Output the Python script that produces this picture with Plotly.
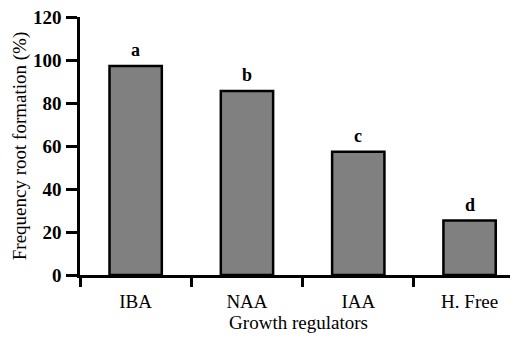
import plotly.graph_objects as go

categories = ["IBA", "NAA", "IAA", "H. Free"]
values = [97.2, 85.6, 57.3, 25.3]
letters = ["a", "b", "c", "d"]
y_ticks = [0, 20, 40, 60, 80, 100, 120]

FONT = "Liberation Serif, Times New Roman, serif"

fig = go.Figure()
fig.add_trace(go.Bar(
    x=categories, y=values, width=0.47,
    marker=dict(color="#808080", line=dict(color="black", width=2.5)),
))

for c, v, t in zip(categories, values, letters):
    fig.add_annotation(x=c, y=v, text=f"<b>{t}</b>", showarrow=False,
                       yanchor="bottom", yshift=4,
                       font=dict(family=FONT, size=18, color="black"))

fig.update_layout(
    width=510, height=337,
    margin=dict(l=72, r=1, t=9, b=70),
    plot_bgcolor="white", paper_bgcolor="white",
    showlegend=False,
    font=dict(family=FONT, color="black"),
)
fig.update_xaxes(
    type="category", range=[-0.5, 3.426], automargin=False,
    showline=True, linecolor="black", linewidth=2.5,
    ticks="outside", tickson="boundaries", ticklen=9, tickwidth=2.5, tickcolor="black",
    ticklabelstandoff=7,
    tickfont=dict(family=FONT, size=19),
    title=dict(text="Growth regulators", font=dict(family=FONT, size=19), standoff=4),
    showgrid=False, zeroline=False,
)
fig.update_yaxes(
    range=[0, 120], tickvals=y_ticks, automargin=False,
    ticktext=[f"<b>{v}</b>" for v in y_ticks],
    ticklabeloverflow="allow",
    showline=True, linecolor="black", linewidth=2.5,
    ticks="outside", ticklen=11, tickwidth=2.5, tickcolor="black",
    ticklabelstandoff=1,
    tickfont=dict(family=FONT, size=19),
    title=dict(text="Frequency root formation (%)", font=dict(family=FONT, size=19), standoff=2),
    showgrid=False, zeroline=False,
)

fig.write_html("out.html")
